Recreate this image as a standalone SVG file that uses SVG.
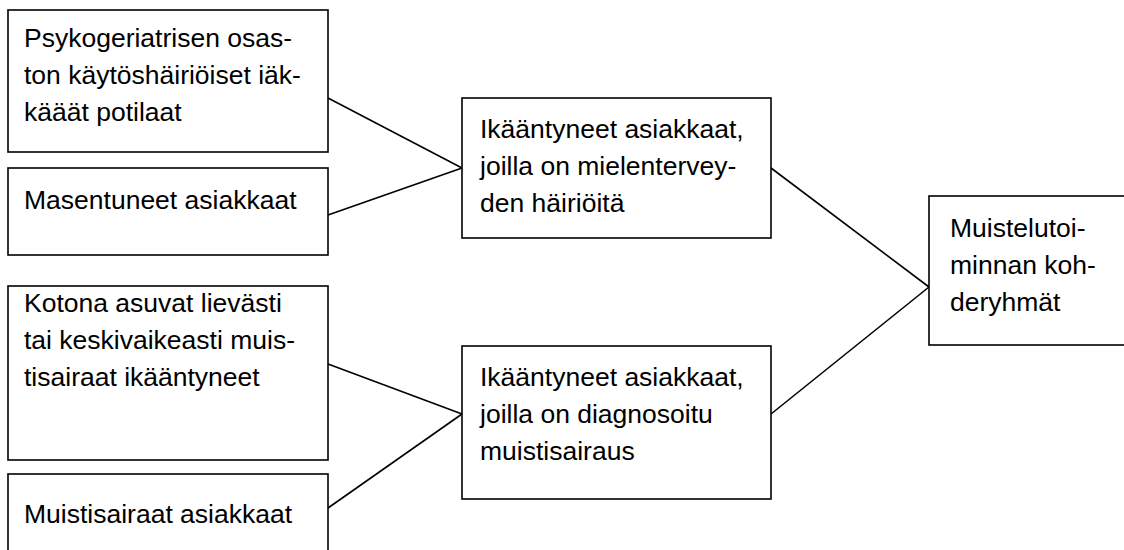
<svg xmlns="http://www.w3.org/2000/svg" width="1124" height="550" viewBox="0 0 1124 550">
<style>
.box{fill:#fff;stroke:#000;stroke-width:1.6}
.t{font-family:"Liberation Sans",Arial,sans-serif;font-size:26.5px;fill:#000}
.c{stroke:#000;stroke-width:1.6;fill:none}
</style>
<rect width="1124" height="550" fill="#fff"/>
<g id="connectors">
<line class="c" x1="328" y1="98" x2="462" y2="168"/>
<line class="c" x1="328" y1="215" x2="462" y2="168"/>
<line class="c" x1="328" y1="364" x2="462" y2="414"/>
<line class="c" x1="328" y1="508" x2="462" y2="414"/>
<line class="c" x1="771" y1="168" x2="929" y2="287"/>
<line class="c" x1="771" y1="414" x2="929" y2="287"/>
</g>
<g id="n1">
<rect class="box" x="8" y="10" width="320" height="142"/>
<text class="t" x="24" y="47">Psykogeriatrisen osas-</text>
<text class="t" x="24" y="84">ton käytöshäiriöiset iäk-</text>
<text class="t" x="24" y="121">kääät potilaat</text>
</g>
<g id="n2">
<rect class="box" x="8" y="168" width="320" height="87"/>
<text class="t" x="24" y="209">Masentuneet asiakkaat</text>
</g>
<g id="n3">
<rect class="box" x="8" y="286" width="320" height="174"/>
<text class="t" x="24" y="312">Kotona asuvat lievästi</text>
<text class="t" x="24" y="349">tai keskivaikeasti muis-</text>
<text class="t" x="24" y="386">tisairaat ikääntyneet</text>
</g>
<g id="n4">
<rect class="box" x="8" y="474" width="320" height="90"/>
<text class="t" x="24" y="523">Muistisairaat asiakkaat</text>
</g>
<g id="n5">
<rect class="box" x="462" y="98" width="309" height="140"/>
<text class="t" x="480" y="138">Ikääntyneet asiakkaat,</text>
<text class="t" x="480" y="175">joilla on mielentervey-</text>
<text class="t" x="480" y="212">den häiriöitä</text>
</g>
<g id="n6">
<rect class="box" x="462" y="346" width="309" height="153"/>
<text class="t" x="480" y="386">Ikääntyneet asiakkaat,</text>
<text class="t" x="480" y="423">joilla on diagnosoitu</text>
<text class="t" x="480" y="460">muistisairaus</text>
</g>
<g id="n7">
<rect class="box" x="929" y="196" width="200" height="149"/>
<text class="t" x="950" y="237">Muistelutoi-</text>
<text class="t" x="950" y="274">minnan koh-</text>
<text class="t" x="950" y="311">deryhmät</text>
</g>
</svg>
